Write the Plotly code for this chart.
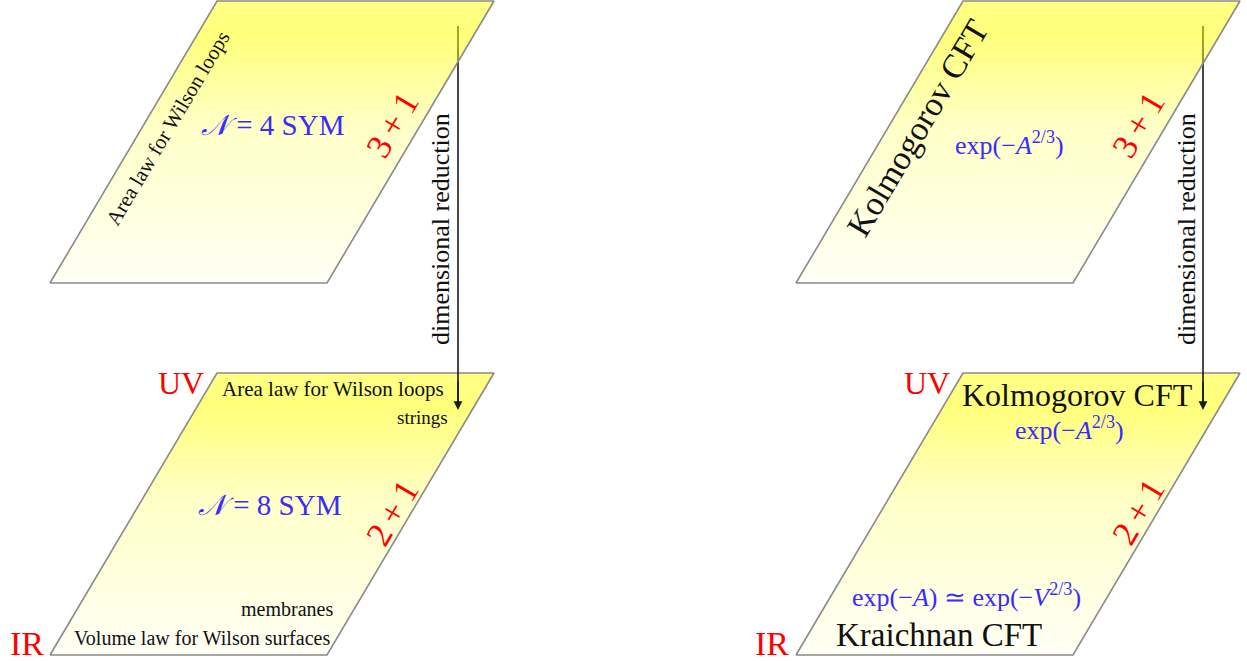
import math
import plotly.graph_objects as go

# ---------------- data ----------------
W, H = 1247, 661
# panel geometry (pixel-like diagram coordinates, y grows downward)
panel_left_x = [50, 796, 50, 796]      # bottom-left corner x
panel_top_y = [1, 1, 373, 373]          # top edge y
panel_height = 282
panel_width = 277
panel_shear = 167
panel_layer = ["top", "top", "bottom", "bottom"]

# dimensional reduction arrows
arrow_x = [458, 1203]
arrow_y_start = [26, 26]
arrow_y_end = [410, 410]
arrow_label = "dimensional reduction"
arrow_label_x = [440, 1186]
arrow_label_y = [229, 229]

SERIF = "Liberation Serif"
BLUE = "#3a2bff"
RED = "#ff0000"
BLACK = "#111111"
ANGLE = -math.degrees(math.atan2(panel_height, panel_shear))
PM = "\u2009+\u2009"

# text labels: (text, x, y, size, color, rotated)
labels = [
    # left column, upper panel
    ("Area law for Wilson loops", 168, 128, 21, BLACK, True),
    ("<i>𝒩</i> = 4 SYM", 272, 125, 29, BLUE, False),
    ("3" + PM + "1", 392, 125, 35, RED, True),
    # left column, lower panel
    ("UV", 181, 383, 32, RED, False),
    ("Area law for Wilson loops", 333, 389, 21, BLACK, False),
    ("strings", 422, 417, 19, BLACK, False),
    ("<i>𝒩</i> = 8 SYM", 269, 505, 29, BLUE, False),
    ("2" + PM + "1", 392, 513, 35, RED, True),
    ("membranes", 287, 609, 20, BLACK, False),
    ("Volume law for Wilson surfaces", 202, 638, 20, BLACK, False),
    ("IR", 27, 643, 34, RED, False),
    # right column, upper panel
    ("Kolmogorov CFT", 917, 128, 34, BLACK, True),
    ("exp(−<i>A</i><sup>2/3</sup>)", 1009, 143, 26, BLUE, False),
    ("3" + PM + "1", 1138, 125, 35, RED, True),
    # right column, lower panel
    ("UV", 927, 383, 32, RED, False),
    ("Kolmogorov CFT", 1077, 395, 32, BLACK, False),
    ("exp(−<i>A</i><sup>2/3</sup>)", 1069, 428, 26, BLUE, False),
    ("2" + PM + "1", 1138, 512, 35, RED, True),
    ("exp(−<i>A</i>) ≃ exp(−<i>V</i><sup>2/3</sup>)", 966, 595, 26, BLUE, False),
    ("Kraichnan CFT", 939, 635, 33, BLACK, False),
    ("IR", 772, 643, 34, RED, False),
]

# ---------------- figure ----------------
fig = go.Figure()


def panel_trace(i):
    x0, yt = panel_left_x[i], panel_top_y[i]
    yb = yt + panel_height
    xs = [x0, x0 + panel_width, x0 + panel_width + panel_shear, x0 + panel_shear, x0]
    ys = [yb, yb, yt, yt, yb]
    return go.Scatter(
        x=xs, y=ys, mode="lines", fill="toself",
        line=dict(color="#8a8a8a", width=1.6),
        fillgradient=dict(
            type="vertical",
            colorscale=[[0, "rgba(255,255,0,0.04)"], [0.55, "rgba(255,255,0,0.22)"],
                        [0.88, "rgba(255,255,0,0.52)"], [1, "rgba(255,255,0,0.48)"]],
            start=yb, stop=yt,
        ),
        hoverinfo="skip", showlegend=False,
    )


# lower panels first
for i in range(4):
    if panel_layer[i] == "bottom":
        fig.add_trace(panel_trace(i))

# arrow shafts (partly covered by upper panels)
for ax_, y0, y1 in zip(arrow_x, arrow_y_start, arrow_y_end):
    fig.add_trace(go.Scatter(x=[ax_, ax_], y=[y0, y1 - 4], mode="lines",
                             line=dict(color="#1a1a1a", width=1.6),
                             hoverinfo="skip", showlegend=False))

for i in range(4):
    if panel_layer[i] == "top":
        fig.add_trace(panel_trace(i))

annotations = []
for ax_, y1 in zip(arrow_x, arrow_y_end):
    annotations.append(dict(x=ax_, y=y1, ax=ax_, ay=y1 - 30, xref="x", yref="y",
                            axref="x", ayref="y", text="", showarrow=True,
                            arrowhead=2, arrowsize=1.1, arrowwidth=1.6,
                            arrowcolor="#1a1a1a"))
for lx, ly in zip(arrow_label_x, arrow_label_y):
    annotations.append(dict(x=lx, y=ly, xref="x", yref="y", text=arrow_label,
                            showarrow=False, textangle=-90,
                            font=dict(family=SERIF, size=26, color=BLACK)))
for text, x, y, size, color, rot in labels:
    annotations.append(dict(x=x, y=y, xref="x", yref="y", text=text,
                            showarrow=False, textangle=ANGLE if rot else 0,
                            font=dict(family=SERIF, size=size, color=color)))

fig.update_layout(
    width=W, height=H,
    margin=dict(l=0, r=0, t=0, b=0),
    paper_bgcolor="white", plot_bgcolor="white",
    xaxis=dict(range=[0, W], visible=False, fixedrange=True),
    yaxis=dict(range=[H, 0], visible=False, fixedrange=True),
    annotations=annotations,
    showlegend=False,
)

fig.write_html(
    "out.html",
    config={"displayModeBar": False},
    post_script="document.body.style.margin='0';document.body.style.overflow='hidden';",
)
